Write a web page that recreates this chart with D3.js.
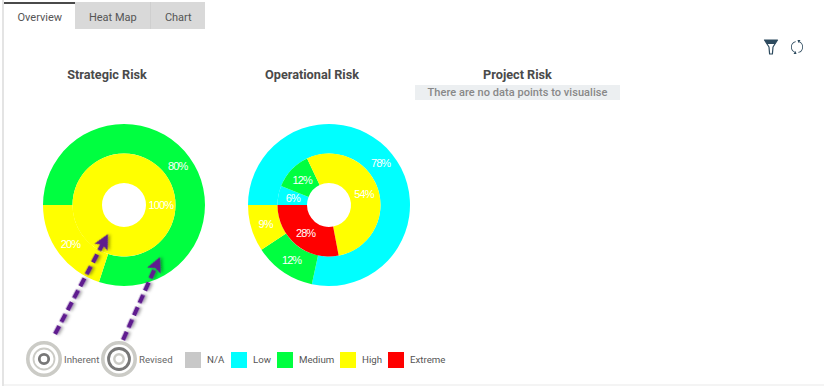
<!DOCTYPE html>
<html>
<head>
<meta charset="utf-8">
<script src="https://cdn.jsdelivr.net/npm/d3@7"></script>
<style>
	html, body { margin: 0; padding: 0; background: #fff; overflow: hidden; }
	text { font-family: Roboto, sans-serif; }
</style>
</head>
<body>
<svg id="page" width="824" height="386"></svg>
<script>

// tabs
var tabNames = ["Overview", "Heat Map", "Chart"];

// legend
var levels = ["N/A", "Low", "Medium", "High", "Extreme"];
var levelColors = ["#c8c8c8", "#00ffff", "#00ff40", "#ffff00", "#ff0000"];

// charts
var chartTitles = ["Strategic Risk", "Operational Risk", "Project Risk"];
var noDataText = "There are no data points to visualise";

// Strategic Risk, outer ring = revised, inner ring = inherent
var strategicOuterLevels = ["Medium", "High"];
var strategicOuterValues = [80, 20];
var strategicInnerLevels = ["High"];
var strategicInnerValues = [100];

// Operational Risk
var operationalOuterLevels = ["Low", "Medium", "High"];
var operationalOuterValues = [78.4, 12.3, 9.3];
var operationalInnerLevels = ["Low", "Medium", "High", "Extreme"];
var operationalInnerValues = [6, 12, 54, 28];

var svg = d3.select("#page");
var color = d3.scaleOrdinal(levels, levelColors);

// page frame
svg.append("rect").attr("x", 2).attr("y", 0).attr("width", 2).attr("height", 386).attr("fill", "#e4e4e4");
svg.append("rect").attr("x", 4).attr("y", 384).attr("width", 820).attr("height", 2).attr("fill", "#f4f4f4");

// tabs
var tabX = d3.scaleOrdinal(tabNames, [4, 75, 151]);
var tabW = d3.scaleOrdinal(tabNames, [71, 75, 54]);

var tabs = svg.append("g").selectAll("g")
	.data(tabNames)
	.join("g");

tabs.append("rect")
	.attr("x", d => tabX(d))
	.attr("y", 2)
	.attr("width", d => tabW(d))
	.attr("height", 27)
	.attr("fill", (d, i) => i === 0 ? "#fff" : "#d9d9d9");

tabs.append("text")
	.attr("x", d => tabX(d) + tabW(d) / 2 + 0.3)
	.attr("y", 21)
	.attr("text-anchor", "middle")
	.attr("font-size", 11)
	.attr("fill", "#555")
	.text(d => d);

svg.append("rect").attr("x", 4).attr("y", 2).attr("width", 71).attr("height", 2).attr("fill", "#4a4a4a");
svg.append("rect").attr("x", 150).attr("y", 2).attr("width", 1).attr("height", 27).attr("fill", "#cfcfcf");

// titles
var titleX = d3.scaleOrdinal(chartTitles, [107, 312, 517.5]);

svg.append("g").selectAll("text")
	.data(chartTitles)
	.join("text")
	.attr("x", d => titleX(d))
	.attr("y", 79)
	.attr("text-anchor", "middle")
	.attr("font-size", 12.7)
	.attr("font-weight", 700)
	.attr("fill", "#4a4a4a")
	.text(d => d);

svg.append("rect").attr("x", 415).attr("y", 85).attr("width", 205).attr("height", 15).attr("fill", "#eceff1");
svg.append("text")
	.attr("x", 517.5)
	.attr("y", 96)
	.attr("text-anchor", "middle")
	.attr("font-size", 11)
	.attr("font-weight", 500)
	.attr("letter-spacing", 0.05)
	.attr("fill", "#888")
	.text(noDataText);

// donuts
var pie = d3.pie()
	.sort(null)
	.startAngle(-Math.PI / 2)
	.endAngle(Math.PI * 3 / 2);

function ring(g, names, values, r0, r1) {

	var arc = d3.arc().innerRadius(r0).outerRadius(r1);
	var slices = pie(values);

	g.append("g").selectAll("path")
		.data(slices)
		.join("path")
		.attr("d", arc)
		.attr("fill", (d, i) => color(names[i]));

	g.append("g").selectAll("text")
		.data(slices)
		.join("text")
		.attr("transform", d => `translate(${arc.centroid(d)})`)
		.attr("dy", "0.35em")
		.attr("text-anchor", "middle")
		.style("font-family", "'Liberation Sans', sans-serif")
		.attr("font-size", 11)
		.attr("letter-spacing", -0.9)
		.attr("fill", "#fff")
		.text(d => Math.round(d.value) + "%");

}

var strategic = svg.append("g").attr("transform", "translate(124,205)");
ring(strategic, strategicOuterLevels, strategicOuterValues, 51.5, 81);
ring(strategic, strategicInnerLevels, strategicInnerValues, 22, 51.5);

var operational = svg.append("g").attr("transform", "translate(329,205)");
ring(operational, operationalOuterLevels, operationalOuterValues, 51.5, 81);
ring(operational, operationalInnerLevels, operationalInnerValues, 22, 51.5);

// purple arrows
var defs = svg.append("defs");
var shadow = defs.append("filter").attr("id", "shadow")
	.attr("x", "-30%").attr("y", "-30%").attr("width", "160%").attr("height", "160%");
shadow.append("feDropShadow")
	.attr("dx", 1).attr("dy", 2).attr("stdDeviation", 1.6)
	.attr("flood-color", "#000").attr("flood-opacity", 0.35);

function arrow(x0, y0, x1, y1) {

	var a = Math.atan2(y1 - y0, x1 - x0);
	var deg = a * 180 / Math.PI;
	var len = Math.hypot(x1 - x0, y1 - y0);
	var g = svg.append("g")
		.attr("filter", "url(#shadow)")
		.attr("transform", `translate(${x0},${y0}) rotate(${deg})`);

	g.append("line")
		.attr("x1", 0).attr("y1", 0)
		.attr("x2", len - 10).attr("y2", 0)
		.attr("stroke", "#5f1f8f")
		.attr("stroke-width", 4.5)
		.attr("stroke-dasharray", "9 4.5");

	g.append("path")
		.attr("d", `M${len},0 L${len - 15},-7.5 L${len - 12},0 L${len - 15},7.5 Z`)
		.attr("fill", "#5f1f8f");

}

arrow(55, 334, 108, 234);
arrow(123, 340, 160, 257);

// ring keys, dark ring marks which ring of the donut is meant
function ringKey(cx, cy, darkR, darkW, midR, midW) {

	var g = svg.append("g").attr("transform", `translate(${cx},${cy})`);

	g.append("circle").attr("r", 16.2).attr("fill", "none")
		.attr("stroke", "#cbcbc6").attr("stroke-width", 3.6);
	g.append("circle").attr("r", midR).attr("fill", "none")
		.attr("stroke", "#cbcbc6").attr("stroke-width", midW);
	g.append("circle").attr("r", darkR).attr("fill", "none")
		.attr("stroke", "#777").attr("stroke-width", darkW);

}

ringKey(44, 359, 4.7, 2.8, 10.5, 1.8);
ringKey(119, 359, 10.5, 2.8, 4.7, 2.4);

svg.append("text").attr("x", 64).attr("y", 362.5).attr("font-size", 9.7).attr("fill", "#666").text("Inherent");
svg.append("text").attr("x", 139).attr("y", 362.5).attr("font-size", 9.7).attr("fill", "#666").text("Revised");

// legend
var legendX = d3.scaleOrdinal(levels, [185, 231, 277, 340, 388]);

var legend = svg.append("g").selectAll("g")
	.data(levels)
	.join("g");

legend.append("rect")
	.attr("x", d => legendX(d))
	.attr("y", 352)
	.attr("width", 16)
	.attr("height", 16)
	.attr("fill", d => color(d));

legend.append("text")
	.attr("x", d => legendX(d) + 22)
	.attr("y", 363)
	.attr("font-size", 9.7)
	.attr("fill", "#555")
	.text(d => d);

// filter icon
var filterIcon = svg.append("g").attr("transform", "translate(771,47)");
filterIcon.append("path")
	.attr("d", "M-6.5,-7 L6.5,-7 L2,0 L1.4,7 L-1.4,7 L-2,0 Z")
	.attr("fill", "#fff")
	.attr("stroke", "#2d4a5e")
	.attr("stroke-width", 1.2)
	.attr("stroke-linejoin", "round");
filterIcon.append("path")
	.attr("d", "M-6.5,-7 L6.5,-7 L4,-3 L-4,-3 Z")
	.attr("fill", "#2d4a5e");

// refresh icon
var refreshIcon = svg.append("g").attr("transform", "translate(797,47)");
var refreshArc = d3.arc().innerRadius(5.2).outerRadius(6);
[[0.3, 2.9], [3.45, 6.05]].forEach(a => {
	refreshIcon.append("path")
		.attr("d", refreshArc({ startAngle: a[0], endAngle: a[1] }))
		.attr("fill", "#2d4a5e");
});
refreshIcon.append("path").attr("d", "M0.5,-7 L3.5,-7 L1.5,-4 Z").attr("fill", "#2d4a5e");
refreshIcon.append("path").attr("d", "M-0.5,7 L-3.5,7 L-1.5,4 Z").attr("fill", "#2d4a5e");

</script>
</body>
</html>
